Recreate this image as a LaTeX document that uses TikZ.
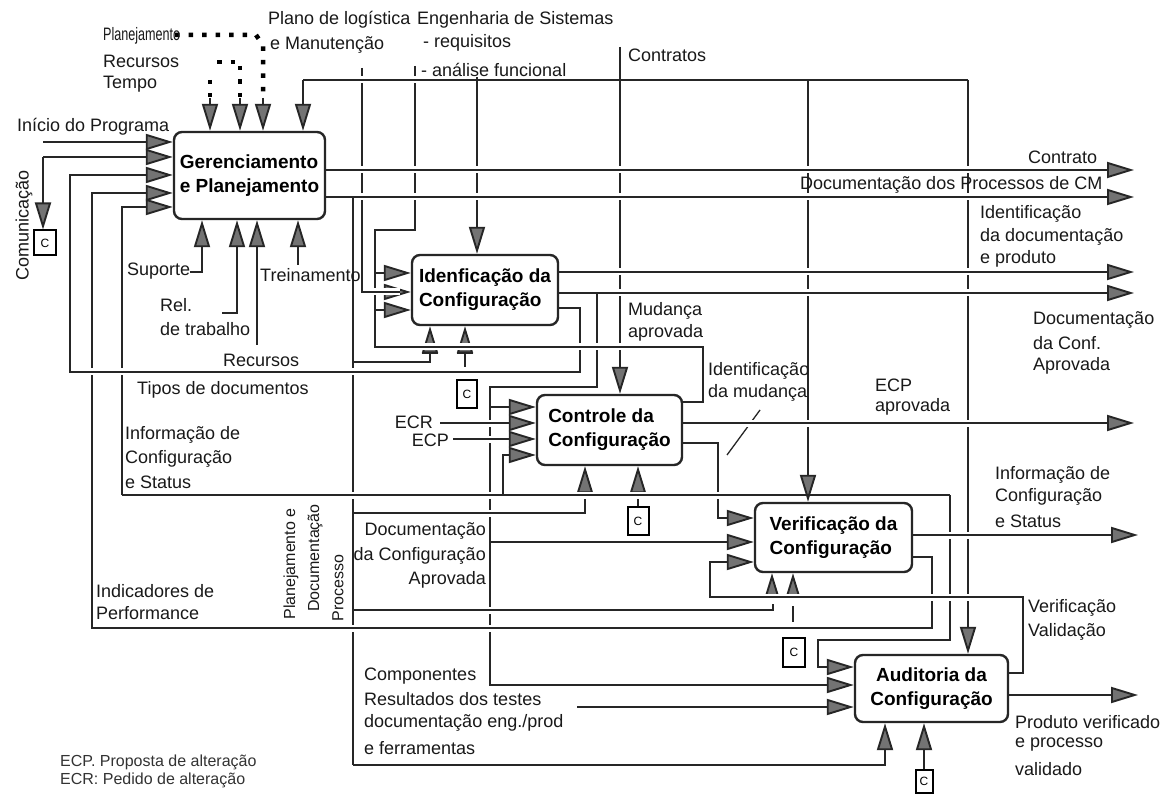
\documentclass[tikz,border=0pt]{standalone}
\usepackage{fontspec}
\setmainfont{Liberation Sans}
\usetikzlibrary{arrows.meta}
% a horizontal line that passes over the vertical lines it crosses
\newcommand\hbridge[3]{%
  \draw[halo] (#1,#3) -- (#2,#3);
  \draw[ln] (#1,#3) -- (#2,#3);}
\begin{document}
\begin{tikzpicture}[x=1pt,y=-1pt,
  ln/.style={draw=black!85,line width=1.9pt},
  arr/.style={ln,-{Triangle[length=27pt,width=16pt,fill=black!55]}},
  box/.style={draw=black!85,line width=2.4pt,rounded corners=8pt,fill=white,
    align=left,inner sep=0pt,font=\fontsize{19}{24}\selectfont\bfseries},
  lbl/.style={inner sep=0pt,anchor=west,font=\fontsize{18}{21}\selectfont,text=black!90},
  vlbl/.style={inner sep=0pt,rotate=90,anchor=center,font=\fontsize{16}{19}\selectfont,text=black!90},
  small/.style={inner sep=0pt,anchor=west,font=\fontsize{16}{18}\selectfont,text=black!80},
  dots/.style={draw=black,line width=4.5pt,dash pattern=on 4.5pt off 9pt},
  cbox/.style={draw=black,line width=2pt,inner sep=0pt,fill=white,
    font=\fontsize{12}{12}\selectfont},
  halo/.style={draw=white,line width=7pt},
]
\useasboundingbox (0,0) rectangle (1168,794);
\fill[white] (0,0) rectangle (1168,794);

% ---------------- activity boxes
\node[box,minimum width=151pt,minimum height=87pt] (G) at (249.5,175.5) {Gerenciamento\\e Planejamento};
\node[box,minimum width=146pt,minimum height=70pt] (I) at (485,290) {Idenficação da\\Configuração};
\node[box,minimum width=145pt,minimum height=70pt] (K) at (609.5,430) {Controle da\\Configuração};
\node[box,minimum width=157pt,minimum height=69pt] (V) at (833.5,537.5) {Verificação da\\Configuração};
\node[box,minimum width=153pt,minimum height=67pt,align=center] (A) at (931.5,688.5) {Auditoria da\\Configuração};

% ---------------- mechanism markers
\node[cbox,minimum width=22pt,minimum height=25pt] (c1) at (45,243) {C};
\node[cbox,minimum width=20pt,minimum height=28pt] (c2) at (467,394) {C};
\node[cbox,minimum width=21pt,minimum height=28pt] (c3) at (638,521) {C};
\node[cbox,minimum width=22pt,minimum height=29pt] (c4) at (794,652) {C};
\node[cbox,minimum width=17pt,minimum height=23pt] (c5) at (924,781) {C};

% ---------------- controls of Gerenciamento
\draw[dots] (175,35) -- (256,35) -- (263,45) -- (263,97);
\draw[dots] (217,62) -| (240,97);
\draw[dots] (210,80) -- (210,97);
\draw[arr] (210,98) -- (210,0 |- G.north);
\draw[arr] (240,98) -- (240,0 |- G.north);
\draw[arr] (263,98) -- (263,0 |- G.north);
\draw[ln] (303,80) -- (968,80);
\draw[arr] (303,80) -- (303,0 |- G.north);
\draw[arr] (808,80) -- (808,0 |- V.north);
\draw[arr] (968,80) -- (968,0 |- A.north);

% ---------------- inputs of Gerenciamento
\draw[arr] (43,142) -- (G.west |- 0,142);
\draw[arr] (43,157) -- (G.west |- 0,157);
\draw[arr] (43,157) -- (43,0 |- c1.north);
\draw[arr] (I.east |- 0,308) -- (580,308) -- (580,372) -- (70,372) -- (70,175) -- (G.west |- 0,175);
\draw[arr] (V.east |- 0,557) -- (932,557) -- (932,628) -- (92,628) -- (92,193) -- (G.west |- 0,193);
\draw[ln] (122,495) -- (950,495);
\draw[arr] (122,495) -- (122,207) -- (G.west |- 0,207);
\draw[arr] (950,495) -- (950,640) -- (818,640) -- (818,667) -- (A.west |- 0,667);
\draw[arr] (503,495) -- (503,455) -- (K.west |- 0,455);

% ---------------- mechanisms of Gerenciamento
\draw[arr] (190,272) -- (202,272) -- (202,0 |- G.south);
\draw[arr] (222,313) -- (237,313) -- (237,0 |- G.south);
\draw[arr] (257,345) -- (257,0 |- G.south);
\draw[arr] (298,265) -- (298,0 |- G.south);

% ---------------- outputs of Gerenciamento
\draw[arr] (G.east |- 0,170) -- (1134,170);
\draw[arr] (G.east |- 0,197) -- (1134,197);
\draw[ln] (353,197) -- (353,765);
\draw[arr] (353,765) -- (885,765) -- (885,0 |- A.south);
\draw[ln] (353,362) -- (430,362) -- (430,353);
\draw[ln] (422,353) -- (438,353);
\draw[arr] (430,343) -- (430,0 |- I.south);
\draw[ln] (457,353) -- (473,353);
\draw[ln] (465,353) -- (465,367);
\draw[arr] (465,343) -- (465,0 |- I.south);
\draw[arr] (353,513) -- (585,513) -- (585,0 |- K.south);
\draw[ln] (353,610) -- (773,610) -- (773,604);
\draw[arr] (772,597) -- (772,0 |- V.south);

% ---------------- Identificação
\draw[arr] (362,68) -- (362,292) -- (I.west |- 0,292);
\draw[arr] (415,66) -- (415,230) -- (375,230) -- (375,273) -- (I.west |- 0,273);
\draw[ln] (375,273) -- (375,310);
\draw[arr] (K.east |- 0,402) -- (703,402) -- (703,347) -- (375,347) -- (375,310) -- (I.west |- 0,310);
\draw[arr] (477,77) -- (477,0 |- I.north);
\draw[arr] (I.east |- 0,272) -- (1134,272);
\draw[arr] (I.east |- 0,293) -- (1134,293);
\draw[arr] (597,293) -- (597,387) -- (490,387) -- (490,407) -- (K.west |- 0,407);
\draw[arr] (490,407) -- (490,685) -- (A.west |- 0,685);
\draw[arr] (490,542) -- (V.west |- 0,542);

% ---------------- Controle
\draw[arr] (620,47) -- (620,0 |- K.north);
\draw[arr] (440,423) -- (K.west |- 0,423);
\draw[arr] (453,439) -- (K.west |- 0,439);
\draw[arr] (c3.north) -- (c3.north |- K.south);
\draw[arr] (K.east |- 0,423) -- (1134,423);
\draw[arr] (K.east |- 0,443) -- (718,443) -- (718,518) -- (V.west |- 0,518);
\draw[draw=black!85,line width=1.3pt] (760,410) -- (727,455);

% ---------------- Verificação
\draw[arr] (V.east |- 0,535) -- (1138,535);
\draw[arr] (A.east |- 0,673) -- (1023,673) -- (1023,597) -- (710,597) -- (710,562) -- (V.west |- 0,562);
\draw[arr] (793,596) -- (793,0 |- V.south);
\draw[ln] (793,606) -- (793,622);

% ---------------- Auditoria
\draw[arr] (577,707) -- (A.west |- 0,707);
\draw[arr] (c5.north) -- (c5.north |- A.south);
\draw[arr] (A.east |- 0,695) -- (1138,695);

% ---------------- crossings: horizontals pass over verticals
\hbridge{330}{440}{80}
\hbridge{332}{1100}{170}
\hbridge{357}{1100}{197}
\hbridge{566}{1100}{272}
\hbridge{603}{1100}{293}
\hbridge{368}{400}{292}
\hbridge{385}{695}{347}
\hbridge{78}{570}{372}
\hbridge{690}{1100}{423}
\hbridge{445}{505}{423}
\hbridge{458}{505}{439}
\hbridge{128}{497}{495}
\hbridge{509}{800}{495}
\hbridge{360}{575}{513}
\hbridge{920}{1100}{535}
\hbridge{720}{1015}{597}
\hbridge{360}{700}{610}
\hbridge{100}{920}{628}

% ---------------- labels
\node[lbl] at (103,36) {\scalebox{0.7}[1]{Planejamento}};
\node[lbl] at (103,61) {Recursos};
\node[lbl] at (103,84) {Tempo};
\node[lbl] at (268,20) {Plano de logística};
\node[lbl] at (270,45) {e Manutenção};
\node[lbl] at (417,20) {Engenharia de Sistemas};
\node[lbl] at (423,43) {- requisitos};
\node[lbl] at (421,70) {- análise funcional};
\node[lbl] at (628,55) {Contratos};
\node[lbl] at (17,127) {Início do Programa};
\node[vlbl,font=\fontsize{18}{21}\selectfont] at (24,225) {Comunicação};
\node[lbl] at (127,271) {Suporte};
\node[lbl] at (160,305) {Rel.};
\node[lbl] at (160,329) {de trabalho};
\node[lbl] at (223,360) {Recursos};
\node[lbl] at (260,275) {Treinamento};
\node[lbl] at (137,390) {Tipos de documentos};
\node[lbl] at (125,435) {Informação de};
\node[lbl] at (125,459) {Configuração};
\node[lbl] at (125,482) {e Status};
\node[lbl,anchor=east] at (433,422) {ECR};
\node[lbl,anchor=east] at (449,440) {ECP};
\node[lbl] at (628,311) {Mudança};
\node[lbl] at (628,333) {aprovada};
\node[lbl] at (708,371) {Identificação};
\node[lbl] at (708,393) {da mudança};
\node[lbl] at (875,385) {ECP};
\node[lbl] at (875,407) {aprovada};
\node[lbl,anchor=east] at (486,531) {Documentação};
\node[lbl,anchor=east] at (486,556) {da Configuração};
\node[lbl,anchor=east] at (486,580) {Aprovada};
\node[vlbl] at (291,564) {Planejamento e};
\node[vlbl] at (315,558) {Documentação};
\node[vlbl] at (338,588) {Processo};
\node[lbl] at (96,591) {Indicadores de};
\node[lbl] at (96,613) {Performance};
\node[lbl] at (364,676) {Componentes};
\node[lbl] at (364,699) {Resultados dos testes};
\node[lbl] at (364,723) {documentação eng./prod};
\node[lbl] at (364,748) {e ferramentas};
\node[small] at (60,762) {ECP. Proposta de alteração};
\node[small] at (60,780) {ECR: Pedido de alteração};
\node[lbl] at (1028,157) {Contrato};
\node[lbl] at (800,185) {Documentação dos Processos de CM};
\node[lbl] at (980,214) {Identificação};
\node[lbl] at (980,237) {da documentação};
\node[lbl] at (980,259) {e produto};
\node[lbl] at (1033,320) {Documentação};
\node[lbl] at (1033,343) {da Conf.};
\node[lbl] at (1033,366) {Aprovada};
\node[lbl] at (995,475) {Informação de};
\node[lbl] at (995,497) {Configuração};
\node[lbl] at (995,521) {e Status};
\node[lbl] at (1028,608) {Verificação};
\node[lbl] at (1028,632) {Validação};
\node[lbl] at (1015,722) {Produto verificado};
\node[lbl] at (1015,745) {e processo};
\node[lbl] at (1015,769) {validado};
\end{tikzpicture}
\end{document}
